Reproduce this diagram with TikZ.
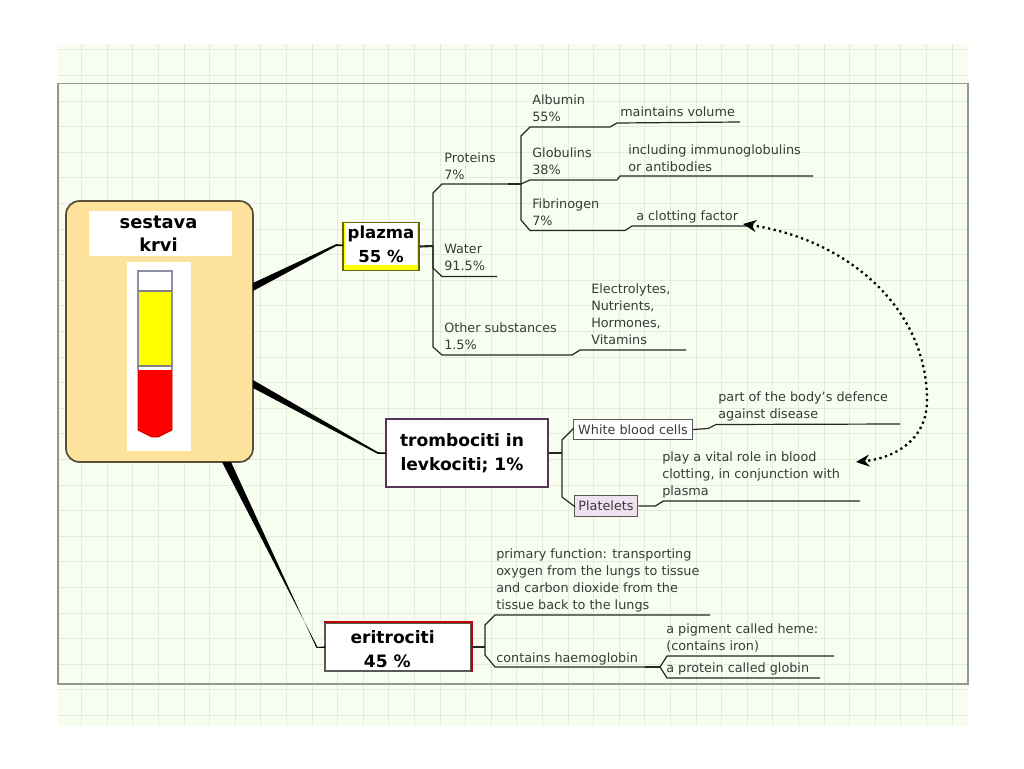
\documentclass[tikz,border=0pt]{standalone}
\usepackage{fontspec}
\setmainfont{DejaVu Sans}
\usetikzlibrary{positioning, calc, arrows.meta}
\definecolor{paper}{HTML}{F7FEF0}
\definecolor{gridline}{HTML}{E3EBDC}
\definecolor{rootfill}{HTML}{FDE29C}
\definecolor{ink}{HTML}{3A3A3A}
\definecolor{tubeline}{HTML}{8A8FA8}
\definecolor{pureyellow}{HTML}{FFFF00}
\definecolor{purered}{HTML}{FF0000}
\tikzstyle{note} = [anchor=west, align=left, inner sep=0pt, text=ink, font=\fontsize{9.6pt}{12.7pt}\selectfont]
\tikzstyle{topic} = [rectangle, draw=black!65, line width=1.3pt, fill=white, align=center, inner sep=0pt, font=\bfseries\fontsize{12.8pt}{18pt}\selectfont]
\tikzstyle{subtopic} = [rectangle, draw=black!65, line width=1.1pt, inner sep=0pt, text=ink, font=\fontsize{9.6pt}{12.7pt}\selectfont]
\tikzstyle{branch} = [line width=0.9pt, draw=black!85]
\tikzstyle{stub} = [line width=1.6pt, draw=black!85]
\tikzstyle{relation} = [line width=1.7pt, dash pattern=on 1.7pt off 2.6pt, {Stealth[length=10pt,width=9pt]}-{Stealth[length=10pt,width=9pt]}]

\begin{document}
\begin{tikzpicture}[x=0.75pt, y=-0.75pt]
    \useasboundingbox (0,0) rectangle (1024,768);
    %background and grid
    \fill [paper] (58,44) rectangle (968,726);
    \foreach \i in {0,...,34} \draw [gridline, line width=0.7pt] ({81.7+25.6*\i},44) -- ({81.7+25.6*\i},726);
    \foreach \j in {0,...,26} \draw [gridline, line width=0.7pt] (58,{49.9+25.6*\j}) -- (968,{49.9+25.6*\j});
    \draw [black!35!gridline, line width=0.9pt] (58,83.5) rectangle (968,684);

    %main boxes
    \node (root) [rectangle, rounded corners=10pt, draw=black!65!rootfill, line width=1.3pt, fill=rootfill, minimum width=140.2pt, minimum height=195.7pt, inner sep=0pt] at (159.5,331.5) {};
    \node (title) [fill=white, align=center, inner sep=0pt, minimum width=107pt, minimum height=34pt, font=\bfseries\fontsize{13.4pt}{17.5pt}\selectfont] at (160.5,233.5) {sestava\hspace*{3pt}\\krvi\hspace*{3pt}};
    \node (tubebg) [fill=white, inner sep=0pt, minimum width=48pt, minimum height=142pt] at (159,356.5) {};
    \node (plazma) [topic, draw=black!60!pureyellow, fill=pureyellow, minimum width=56.5pt, minimum height=36pt] at (381,246.5) {};
    \node (plazmatext) [fill=white, align=center, inner sep=0pt, minimum width=54pt, minimum height=31.5pt, font=\bfseries\fontsize{12.4pt}{17.8pt}\selectfont] at (381,244) {plazma\\55 \%};
    \node (tromb) [topic, draw=black!65!violet!80, minimum width=121pt, minimum height=50.5pt] at (467,453) {trombociti in\hspace*{7.5pt}\\levkociti; 1\%\hspace*{7.5pt}};
    \node (eri) [topic, minimum width=109pt, minimum height=36pt] at (398,647) {\rule{0pt}{12.5pt}eritrociti\hspace*{8pt}\\45 \%\hspace*{16pt}};
    \node (white) [subtopic, fill=white, minimum width=89pt, minimum height=15pt] at (633,429.5) {White blood cells};
    \node (platelets) [subtopic, fill=violet!12, minimum width=47.5pt, minimum height=16pt] at (606,506) {Platelets};
    \draw [red!75!black, line width=1.5pt] (eri.north west) -- (eri.north east) -- (eri.south east);

    %test tube
    \fill [white] (138,271) rectangle (172,291);
    \fill [pureyellow] (138,291) rectangle (172,366);
    \fill [purered] (138,370) -- (172,370) -- (172,430) -- (158,437) -- (152,437) -- (138,430) -- cycle;
    \draw [tubeline, line width=0.9pt] (138,370) -- (138,271) -- (172,271) -- (172,370);
    \draw [black!50, line width=0.8pt] (138,291) -- (172,291) (138,366) -- (172,366);
    \draw [purered!80!black, line width=0.7pt] (138,370) -- (138,430) -- (152,437) -- (158,437) -- (172,430) -- (172,370);

    %texts
    \node (albumin) [note] at (532,108) {Albumin\\55\%};
    \node (maintains) [note] at (620,112) {maintains volume};
    \node (proteins) [note] at (444,166) {Proteins\\7\%};
    \node (globulins) [note] at (532,161) {Globulins\\38\%};
    \node (including) [note] at (628,158) {including immunoglobulins\\or antibodies};
    \node (fibrinogen) [note] at (532,212) {Fibrinogen\\7\%};
    \node (clotting) [note] at (636,216.5) {a clotting factor};
    \node (water) [note] at (444,257.5) {Water\\91.5\%};
    \node (electro) [note] at (591,314.5) {Electrolytes,\\Nutrients,\\Hormones,\\Vitamins};
    \node (other) [note] at (444,336.5) {Other substances\\1.5\%};
    \node (defence) [note] at (718,406) {part of the body's defence\\against disease};
    \node (vital) [note] at (662,475) {play a vital role in blood\\clotting, in conjunction with\\plasma};
    \node (primary) [note] at (496,580.5) {primary function: transporting\\oxygen from the lungs to tissue\\and carbon dioxide from the\\tissue back to the lungs};
    \node (contains) [note] at (496,658.5) {contains haemoglobin};
    \node (pigment) [note] at (666,638) {a pigment called heme:\\(contains iron)};
    \node (protein) [note] at (666,668.5) {a protein called globin};

    %joints and free ends
    \coordinate (plzj) at (433,246);
    \coordinate (protj) at (521,184);
    \coordinate (albend) at (740,122);
    \coordinate (gloend) at (813,176);
    \coordinate (fibend) at (750,226);
    \coordinate (watend) at (497,276.5);
    \coordinate (othend) at (686,350);
    \coordinate (trj) at (562,453);
    \coordinate (whiend) at (900,424);
    \coordinate (plaend) at (860,501);
    \coordinate (erj) at (485,647);
    \coordinate (priend) at (710,615);
    \coordinate (hemj) at (660,667);
    \coordinate (pigend) at (834,656);
    \coordinate (gloend2) at (820,678);
    \coordinate (arrowa) at (743,224);
    \coordinate (arrowb) at (856,462);

    %thick connectors from the root
    \fill [black] (253,283) -- (336,244.2) -- (343,244.6) -- (343,246) -- (336,246.2) -- (253,291) -- cycle;
    \fill [black] (253,380) -- (378,452.2) -- (386,452.4) -- (386,453.8) -- (378,454) -- (253,388) -- cycle;
    \fill [black] (222,462) -- (317.5,647) -- (325,646.4) -- (325,647.8) -- (316.5,648) -- (231,462) -- cycle;

    %plazma branches
    \draw [stub] (plazma.east) -- (plzj);
    \draw [branch] (plzj) -- ++(0,-53) -- ++(9,-9) -- (protj);
    \draw [stub] ($(protj)+(-13,0)$) -- (protj);
    \draw [branch] (plzj) -- ++(0,22) -- ++(9,8.5) -- (watend);
    \draw [branch] (plzj) -- ++(0,101) -- ++(9,8) -- ++(130,0) -- ++(8,-5) -- (othend);
    \draw [branch] (protj) -- ++(0,-48) -- ++(9,-9) -- ++(80,0) -- ++(7,-4) -- (albend);
    \draw [branch] (protj) -- ++(9,-4) -- ++(87,0) -- ++(3,-4) -- (gloend);
    \draw [branch] (protj) -- ++(0,36) -- ++(9,10.5) -- ++(95,0) -- ++(7,-4.5) -- (fibend);

    %trombociti branches
    \draw [stub] (tromb.east) -- (trj);
    \draw [branch] (trj) -- ++(0,-13) -- ++(11,-11) -- (white.west);
    \draw [branch] (trj) -- ++(0,44) -- ++(12,9) -- (platelets.west);
    \draw [branch] (white.east) -- ++(15,-1) -- ++(8,-4) -- (whiend);
    \draw [branch] (platelets.east) -- ++(17,0) -- ++(8,-5) -- (plaend);

    %eritrociti branches
    \draw [stub] (eri.east) -- (erj);
    \draw [branch] (erj) -- ++(0,-22) -- ++(10,-10) -- (priend);
    \draw [branch] (erj) -- ++(0,8) -- ++(10,12) -- (hemj);
    \draw [stub] ($(hemj)+(-15,0)$) -- (hemj);
    \draw [branch] (hemj) -- ++(7,-11) -- (pigend);
    \draw [branch] (hemj) -- ++(7,11) -- (gloend2);

    %dotted relation
    \draw [relation] (arrowa) .. controls (850,240) and (927,310) .. (927,400) .. controls (927,440) and (895,458) .. (arrowb);
\end{tikzpicture}
\end{document}
